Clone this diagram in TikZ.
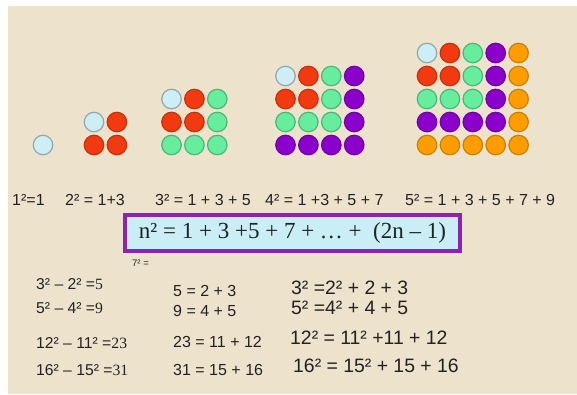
\documentclass[tikz,border=0pt]{standalone}
\usepackage{fontspec}
\setmainfont{Liberation Sans}
\newfontfamily\timesf{Liberation Serif}
\definecolor{bgc}{HTML}{EDE3CD}
\definecolor{lbf}{HTML}{CCEEF4}\definecolor{lbd}{HTML}{8FA7AE}
\definecolor{rdf}{HTML}{F23A10}\definecolor{rdd}{HTML}{C8300C}
\definecolor{grf}{HTML}{66EE9E}\definecolor{grd}{HTML}{48B87A}
\definecolor{puf}{HTML}{8C00CC}\definecolor{pud}{HTML}{7000A8}
\definecolor{orf}{HTML}{FF9D00}\definecolor{ord}{HTML}{C88000}
\definecolor{boxf}{HTML}{C9EEF6}\definecolor{boxd}{HTML}{8C22B8}
\definecolor{txt}{HTML}{222222}
\tikzset{
  dotbase/.style={circle,minimum size=19.5pt,inner sep=0pt,line width=1.2pt},
  dot1/.style={dotbase,fill=lbf,draw=lbd},
  dot2/.style={dotbase,fill=rdf,draw=rdd},
  dot3/.style={dotbase,fill=grf,draw=grd},
  dot4/.style={dotbase,fill=puf,draw=pud},
  dot5/.style={dotbase,fill=orf,draw=ord},
  lbl/.style={anchor=west,inner sep=0pt,text=txt},
  toprow/.style={lbl,font=\fontsize{16}{18}\selectfont},
  colA/.style={lbl,font=\fontsize{15.7}{17}\selectfont},
  colB/.style={lbl,font=\fontsize{16}{18}\selectfont},
  colC/.style={lbl,font=\fontsize{19.4}{21}\selectfont},
  formbox/.style={draw=boxd,fill=boxf,line width=4pt,minimum width=335pt,minimum height=36pt,inner sep=0pt,
    font=\timesf\fontsize{23}{25}\selectfont,text=txt}
}
\begin{document}
\begin{tikzpicture}[x=1pt,y=-1pt]
\useasboundingbox (0,0) rectangle (577,394);
\fill[white] (0,0) rectangle (577,394);
\fill[bgc] (8,6) rectangle (577,394);
\foreach \n/\x in {1/43,2/94,3/171.5,4/285.5,5/427} {
  \foreach \i in {1,...,\n} {
    \foreach \j in {1,...,\n} {
      \pgfmathtruncatemacro\k{max(\i,\j)}
      \node[dot\k] (c\n-\i-\j) at ({\x+(\j-1)*22.9},{145-(\n-\i)*23}) {};
    }
  }
}
\node[toprow] (t1) at (12,200) {1²=1};
\node[toprow] (t2) at (65,200) {2² = 1+3};
\node[toprow] (t3) at (155,200) {3² = 1 + 3 + 5};
\node[toprow] (t4) at (265,200) {4² = 1 +3 + 5 + 7};
\node[toprow] (t5) at (405,200) {5² = 1 + 3 + 5 + 7 + 9};
\node[formbox] (box) at (292.5,233) {n² = 1 + 3 +5 + 7 + … +\ \ (2n – 1)};
\node[lbl,font=\fontsize{9.5}{11}\selectfont] (s7) at (132,263) {7² =};
\node[colA] (a1) at (36,284) {3² – 2² ={\timesf 5}};
\node[colA] (a2) at (36,308) {5² – 4² ={\timesf 9}};
\node[colA] (a3) at (36,343) {12² – 11² ={\timesf 23}};
\node[colA] (a4) at (36,370) {16² – 15² ={\timesf 31}};
\node[colB] (b1) at (173,291) {5 = 2 + 3};
\node[colB] (b2) at (173,311) {9 = 4 + 5};
\node[colB] (b3) at (173,342) {23 = 11 + 12};
\node[colB] (b4) at (173,370) {31 = 15 + 16};
\node[colC] (r1) at (291,288) {3² =2² + 2 + 3};
\node[colC] (r2) at (291,308) {5² =4² + 4 + 5};
\node[colC] (r3) at (290,338) {12² = 11² +11 + 12};
\node[colC] (r4) at (293,366) {16² = 15² + 15 + 16};
\end{tikzpicture}
\end{document}
